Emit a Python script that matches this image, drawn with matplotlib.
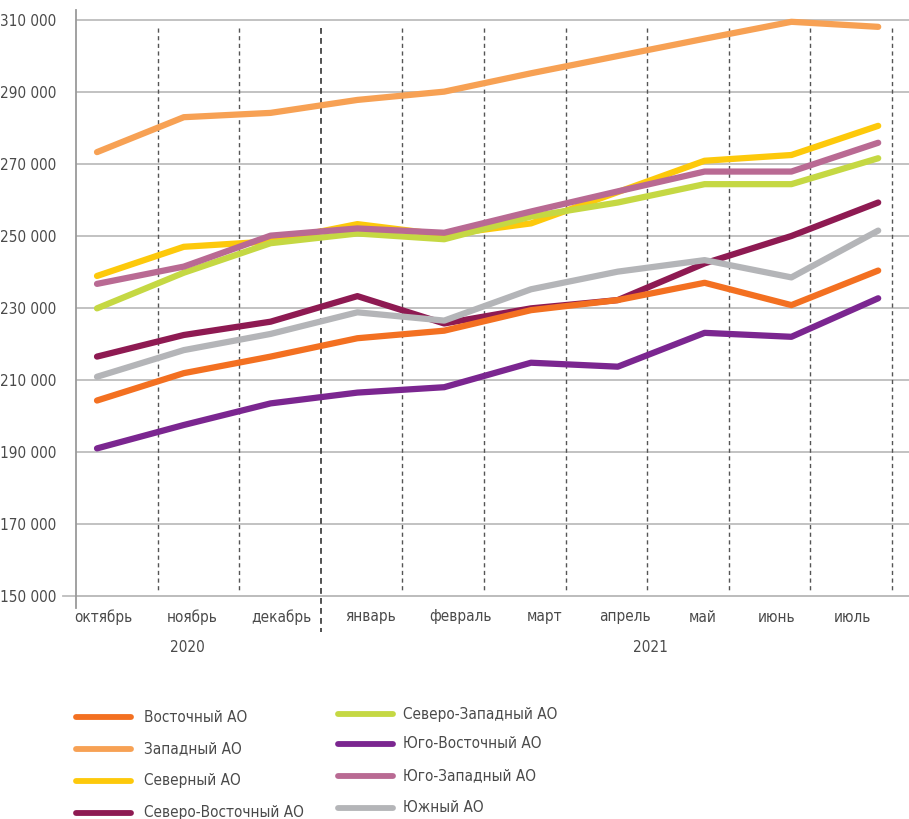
import numpy as np
import matplotlib
matplotlib.use("Agg")
import matplotlib.pyplot as plt
from matplotlib.lines import Line2D
from matplotlib import font_manager as fm

# data
months = ['октябрь', 'ноябрь', 'декабрь', 'январь', 'февраль',
          'март', 'апрель', 'май', 'июнь', 'июль']
years = ['2020', '2021']

vostochny = [204300, 211900, 216500, 221600, 223700, 229400, 232200, 237000, 230800, 240400]
zapadny = [273300, 283000, 284200, 287800, 290100, 295200, 300000, 304800, 309500, 308100]
severny = [238900, 247000, 248500, 253300, 250300, 253500, 262200, 270900, 272500, 280600]
sev_vost = [216500, 222500, 226200, 233300, 225700, 229900, 232200, 242400, 250000, 259300]
sev_zap = [229900, 239800, 248000, 250700, 249100, 255400, 259300, 264400, 264400, 271600]
yug_vost = [191000, 197500, 203500, 206500, 208000, 214800, 213700, 223100, 222000, 232700]
yug_zap = [236700, 241500, 250100, 252100, 250900, 256800, 262400, 267900, 267900, 275900]
yuzhny = [210900, 218300, 222800, 228800, 226500, 235200, 240100, 243300, 238500, 251500]

names = ['Восточный АО', 'Западный АО', 'Северный АО', 'Северо-Восточный АО',
         'Северо-Западный АО', 'Юго-Восточный АО', 'Юго-Западный АО', 'Южный АО']
series = [vostochny, zapadny, severny, sev_vost, sev_zap, yug_vost, yug_zap, yuzhny]
colors = ['#f37021', '#f7a154', '#fdc90b', '#8e1a52',
          '#c5d843', '#7b2690', '#b96a93', '#b4b5b8']
# drawing order (back to front)
order = [1, 2, 4, 6, 3, 7, 0, 5]

yticks = np.arange(150000, 310001, 20000)
ytick_labels = ['{:,}'.format(v).replace(',', ' ') for v in yticks]

# look for a narrow font, the original uses a condensed face
font = None
for want in ['Liberation Sans Narrow', 'DejaVu Sans Condensed', 'Noto Sans Condensed',
             'Open Sans Condensed', 'Roboto Condensed']:
    for f in fm.fontManager.ttflist:
        if f.style != 'normal' or f.weight not in (400, 'normal', 'regular'):
            continue
        if want == 'Liberation Sans Narrow' and f.name == want:
            font = f.fname
        elif want != 'Liberation Sans Narrow' and f.name == want.rsplit(' ', 1)[0] \
                and f.stretch == 'condensed':
            font = f.fname
        elif want != 'Liberation Sans Narrow' and f.name == want:
            font = f.fname
        if font:
            break
    if font:
        break
if font:
    fp = fm.FontProperties(fname=font, size=11)
else:
    fp = fm.FontProperties(family='DejaVu Sans', size=10)

W, H = 909, 819
fig = plt.figure(figsize=(W / 100, H / 100), dpi=100)

# pixel helpers for layout
def px_x(p):
    return (p - 97) / 86.8

def px_y(p):
    return 310000 - (p - 20) / 3.6 * 1000

ax = fig.add_axes([76 / W, (H - 608) / H, (W - 76) / W, (608 - 10) / H])
ax.set_xlim(px_x(76), px_x(W))
ax.set_ylim(px_y(608), px_y(10))

txt = '#4a4a4a'
grid_c = '#bdbdbd'

for v in yticks:
    ax.axhline(v, color=grid_c, lw=1.3, zorder=1)
ax.plot([px_x(63), px_x(W)], [150000, 150000], color=grid_c, lw=1.3,
        clip_on=False, zorder=1)

# dashed month separators
for k in range(1, 11):
    xk = px_x(76 + 81.6 * k)
    if k == 3:
        ax.plot([xk, xk], [px_y(28), px_y(632)], color='#333333', lw=1.2,
                ls=(0, (3.5, 2.5)), clip_on=False, zorder=2)
    else:
        ax.plot([xk, xk], [px_y(28), px_y(590)], color='#555555', lw=1.0,
                ls=(0, (3, 2.5)), zorder=2)

x = np.arange(len(months))
for i in order:
    ax.plot(x, series[i], color=colors[i], lw=4.5, solid_capstyle='round',
            solid_joinstyle='round', zorder=3)

for s in ['top', 'right', 'bottom']:
    ax.spines[s].set_visible(False)
ax.spines['left'].set_color('#9a9a9a')
ax.spines['left'].set_linewidth(1.3)

ax.set_yticks(yticks)
ax.set_yticklabels(ytick_labels, color=txt, fontproperties=fp)
ax.tick_params(axis='y', length=0, pad=14)
ax.set_xticks([])

label_px = [103, 192, 281, 371, 461, 545, 625, 703, 777, 852]
for lx, m in zip(label_px, months):
    fig.text(lx / W, 1 - 617 / H, m, ha='center', va='center', color=txt, fontproperties=fp)
fig.text(187 / W, 1 - 647 / H, years[0], ha='center', va='center', color=txt, fontproperties=fp)
fig.text(650 / W, 1 - 647 / H, years[1], ha='center', va='center', color=txt, fontproperties=fp)

# legend, two columns
leg_left = [(76, 131, 144, 717), (76, 131, 144, 749), (76, 131, 144, 781), (76, 131, 144, 813)]
leg_right = [(338, 393, 403, 714), (338, 393, 403, 744), (338, 393, 403, 776), (338, 393, 403, 808)]
for i, (x0, x1, tx, ly) in enumerate(leg_left + leg_right):
    fig.add_artist(Line2D([x0 / W, x1 / W], [1 - ly / H, 1 - ly / H], color=colors[i],
                          lw=4.2, solid_capstyle='round'))
    fig.text(tx / W, 1 - ly / H, names[i], ha='left', va='center', color=txt, fontproperties=fp)

fig.savefig('out.png', dpi=100)
